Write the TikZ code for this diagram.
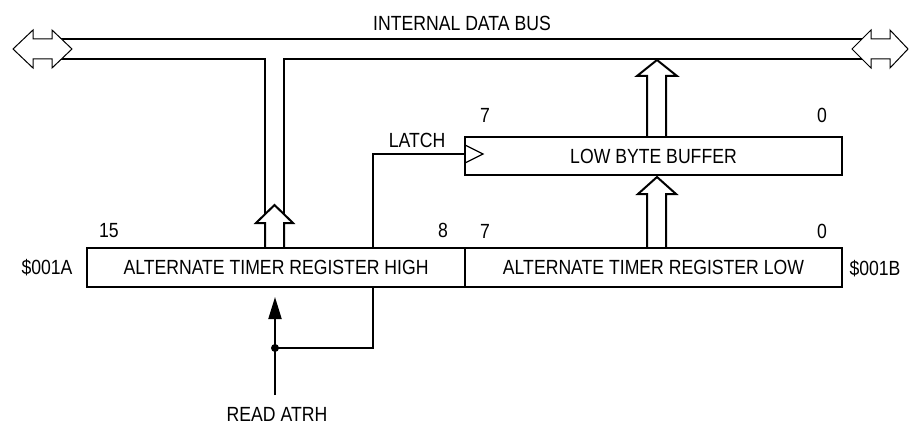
\documentclass[tikz,border=0pt]{standalone}
\usepackage{fontspec}
\setmainfont{Liberation Sans}[FakeStretch=0.86]
\usetikzlibrary{arrows.meta,calc}
\begin{document}
\begin{tikzpicture}[x=1pt,y=-1pt,
  every node/.style={font=\fontsize{20.5}{23}\selectfont, inner sep=0pt, outer sep=0pt},
  regbox/.style={draw, line width=2.5pt, minimum height=39pt},
  lbl/.style={anchor=base},
  wire/.style={line width=2pt, line join=miter},
  hollow/.style={draw, line width=2pt, fill=white, line join=miter},
  busend/.style={draw, line width=1pt, fill=white, line join=miter},
  dotnode/.style={circle, fill, inner sep=0pt, minimum size=8pt}]
\useasboundingbox (0,0) rectangle (912,425);

% internal data bus
\coordinate (busTL) at (60,39);
\coordinate (busTR) at (864,39);
\coordinate (busBL) at (60,59);
\coordinate (busBR) at (864,59);
\draw[wire] (busTL) -- (busTR);
\draw[wire] (busBL) -- (265,59) -- (265,220);
\draw[wire] (busBR) -- (284,59) -- (284,220);

% hollow arrows
\draw[hollow] (265,247) -- (265,223) -- (256,223) -- (274.5,205) -- (293,223) -- (284,223) -- (284,247);
\draw[hollow] (647,247) -- (647,194) -- (638,194) -- (657,177) -- (676,194) -- (666,194) -- (666,247);
\draw[hollow] (647,136) -- (647,76) -- (637,76) -- (657,60) -- (677,76) -- (666,76) -- (666,136);

% bus end symbols
\draw[busend] (13,49) -- (33,30) -- (33,39) -- (52,39) -- (52,30) -- (72,49) -- (52,68) -- (52,59) -- (33,59) -- (33,68) -- cycle;
\draw[busend] (852,49) -- (871,30) -- (871,39) -- (890,39) -- (890,30) -- (908,49) -- (890,68) -- (890,59) -- (871,59) -- (871,68) -- cycle;

% registers
\node[regbox, minimum width=378pt] (high) at (276,267.5) {ALTERNATE TIMER REGISTER HIGH};
\node[regbox, minimum width=377pt] (low) at (653.5,267.5) {ALTERNATE TIMER REGISTER LOW};
\node[regbox, minimum width=377pt, minimum height=38pt] (buf) at (653.5,156) {LOW BYTE BUFFER};

% labels
\node[lbl] (addrA) at (47,274) {\$001A};
\node[lbl] (addrB) at (875,275) {\$001B};
\node[lbl] (b15) at (109,237) {15};
\node[lbl] (b8) at (443,237) {8};
\node[lbl] (b7l) at (485,238) {7};
\node[lbl] (b0l) at (822,238) {0};
\node[lbl] (b7b) at (485,123) {7};
\node[lbl] (b0b) at (822,123) {0};
\node[lbl] (latchlbl) at (417,147) {LATCH};
\node[lbl] (readlbl) at (277,421) {READ ATRH};
\node[lbl] (buslbl) at (462,31) {INTERNAL DATA BUS};

% latch
\coordinate (latchA) at (373,247);
\coordinate (latchB) at (373,154);
\draw[wire] (latchA) -- (latchB) -- (buf.west |- latchB);
\draw[line width=1.2pt, line join=miter] (465,145) -- (483,154) -- (465,163);

% read ATRH
\coordinate (readbot) at (275,395);
\coordinate (readtip) at (275,297);
\draw[wire, -{Triangle[length=22pt,width=13pt]}] (readbot) -- (readtip);
\node[dotnode] (dot) at (275,348) {};
\draw[wire] (dot.center) -- (373,348) -- (373,288);
\end{tikzpicture}
\end{document}
